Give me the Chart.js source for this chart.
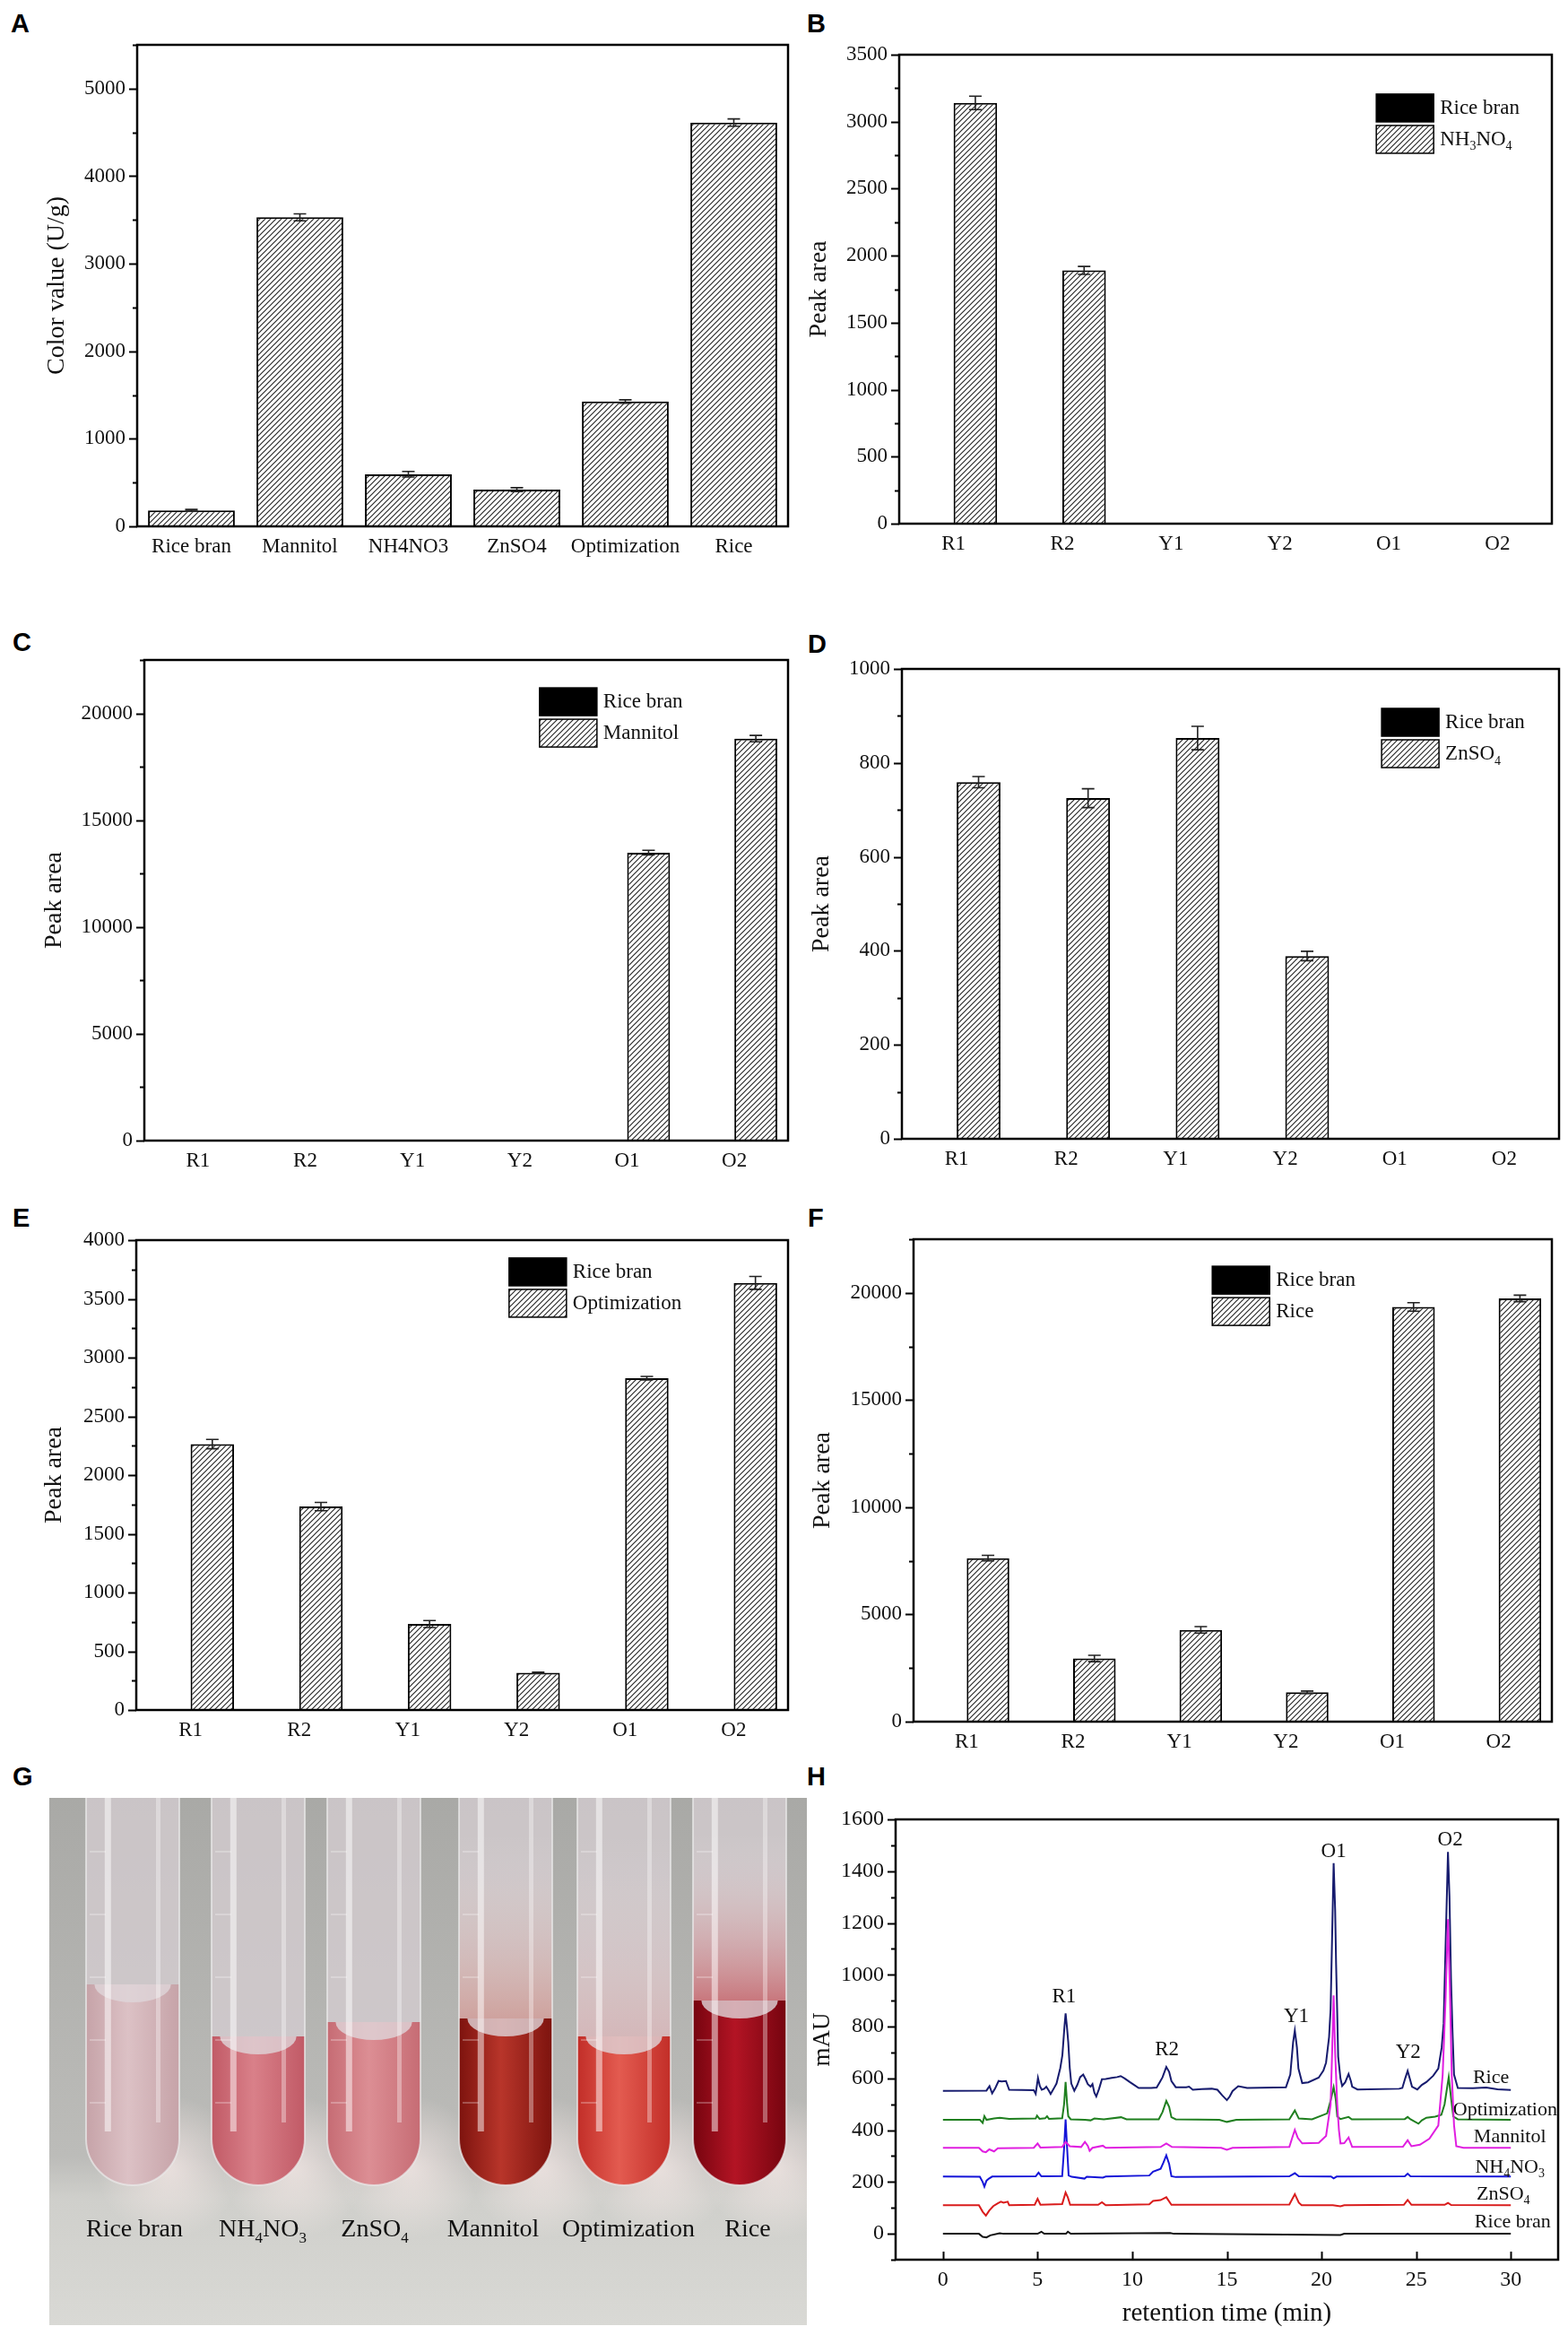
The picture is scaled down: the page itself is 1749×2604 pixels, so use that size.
<!DOCTYPE html>
<html lang="en">
<head>
<meta charset="UTF-8" />
<title>Color value and pigment peak areas</title>
<script src="https://cdn.jsdelivr.net/npm/chart.js@4.4.1/dist/chart.umd.min.js"></script>
<style>
  html, body { margin: 0; padding: 0; background: #fff; }
  body { width: 1749px; height: 2604px; position: relative; overflow: hidden; }
  canvas { position: absolute; }
  .tag { position: absolute; font: bold 29px "Liberation Sans", Arial, sans-serif; line-height: 1; color: #000; }
</style>
</head>
<body>
<div class="tag" style="left:12px;top:12px">A</div>
<div class="tag" style="left:900px;top:12px">B</div>
<div class="tag" style="left:14px;top:702px">C</div>
<div class="tag" style="left:901px;top:704px">D</div>
<div class="tag" style="left:14px;top:1344px">E</div>
<div class="tag" style="left:901px;top:1344px">F</div>
<div class="tag" style="left:14px;top:1967px">G</div>
<div class="tag" style="left:900px;top:1967px">H</div>

<canvas id="chartA"></canvas>
<canvas id="chartB"></canvas>
<canvas id="chartC"></canvas>
<canvas id="chartD"></canvas>
<canvas id="chartE"></canvas>
<canvas id="chartF"></canvas>
<canvas id="photo" width="845" height="588" style="left:55px;top:2005px"></canvas>
<canvas id="chartH"></canvas>

<script>
const SERIF = '"Liberation Serif", "Times New Roman", serif';

// A: colour value of each medium
const colorCats = ['Rice bran', 'Mannitol', 'NH4NO3', 'ZnSO4', 'Optimization', 'Rice'];
const colorValues = [183, 3530, 595, 420, 1425, 4612];
const colorErrors = [10, 40, 32, 22, 20, 42];
const colorTicks = [0, 1000, 2000, 3000, 4000, 5000];

// B-F: peak areas of the six pigments
const peakCats = ['R1', 'R2', 'Y1', 'Y2', 'O1', 'O2'];
const riceBranPeaks = [0, 0, 0, 0, 0, 0];
const nh4no3Peaks = [3140, 1890, 0, 0, 0, 0];
const nh4no3Errors = [50, 30, 0, 0, 0, 0];
const nh4no3Ticks = [0, 500, 1000, 1500, 2000, 2500, 3000, 3500];
const mannitolPeaks = [0, 0, 0, 0, 13480, 18820];
const mannitolErrors = [0, 0, 0, 0, 110, 150];
const mannitolTicks = [0, 5000, 10000, 15000, 20000];
const znso4Peaks = [759, 725, 853, 389, 0, 0];
const znso4Errors = [12, 20, 25, 10, 0, 0];
const znso4Ticks = [0, 200, 400, 600, 800, 1000];
const optimPeaks = [2264, 1732, 732, 317, 2825, 3636];
const optimErrors = [40, 35, 30, 5, 15, 55];
const optimTicks = [0, 500, 1000, 1500, 2000, 2500, 3000, 3500, 4000];
const ricePeaks = [7626, 2946, 4281, 1369, 19341, 19740];
const riceErrors = [130, 150, 150, 60, 200, 150];
const riceTicks = [0, 5000, 10000, 15000, 20000];

// H: HPLC traces, [retention time (min), mAU]
const riceTrace = [[0,552],[2.3,553],[2.46,570],[2.6,542],[2.75,560],[2.94,590],[3.1,588],[3.33,590],[3.5,556],[4.8,554],[4.9,540],[5.02,602],[5.12,570],[5.22,556],[5.35,560],[5.46,568],[5.6,552],[5.69,540],[5.85,560],[6.0,580],[6.2,640],[6.31,690],[6.42,800],[6.48,851],[6.55,800],[6.62,740],[6.7,640],[6.78,580],[6.94,552],[7.1,575],[7.25,605],[7.41,615],[7.55,595],[7.65,578],[7.8,568],[7.9,578],[8.0,545],[8.1,530],[8.25,560],[8.4,597],[8.6,598],[8.92,602],[9.2,605],[9.39,609],[9.6,600],[9.87,586],[10.1,575],[10.34,563],[11.0,563],[11.29,565],[11.45,585],[11.6,604],[11.8,644],[11.95,625],[12.07,590],[12.3,566],[12.85,566],[13.0,568],[13.2,556],[13.67,559],[14.2,560],[14.5,556],[14.75,535],[15.0,516],[15.15,530],[15.3,551],[15.6,570],[16.07,563],[17.5,565],[18.12,566],[18.35,615],[18.5,740],[18.59,785],[18.7,720],[18.78,638],[18.98,582],[19.3,585],[19.85,603],[20.1,630],[20.24,661],[20.4,760],[20.48,868],[20.56,1150],[20.64,1431],[20.72,1250],[20.77,1041],[20.83,850],[20.88,684],[21.0,600],[21.09,571],[21.25,585],[21.43,617],[21.55,590],[21.62,568],[21.9,557],[24.1,560],[24.27,563],[24.42,600],[24.55,629],[24.68,595],[24.78,568],[25.06,557],[25.3,575],[25.54,586],[25.9,610],[26.17,638],[26.35,720],[26.45,811],[26.55,1100],[26.68,1474],[26.76,1300],[26.84,984],[26.92,780],[27.0,615],[27.2,563],[28.0,562],[28.7,565],[29.3,558],[30,555]];
const optimTrace = [[0,440],[1.95,440],[2.1,428],[2.19,454],[2.3,440],[2.7,445],[3.0,448],[3.5,444],[4.9,445],[4.97,456],[5.1,444],[5.4,446],[5.5,454],[5.6,444],[6.3,446],[6.4,500],[6.48,586],[6.56,500],[6.62,454],[6.75,442],[7.5,440],[7.8,438],[8.0,445],[8.5,442],[9.41,450],[9.7,442],[11.4,442],[11.6,470],[11.8,513],[11.95,490],[12.07,450],[12.3,442],[14.6,440],[15.0,432],[15.5,440],[18.3,442],[18.59,476],[18.8,445],[19.5,442],[20.3,465],[20.5,520],[20.64,566],[20.75,520],[20.83,453],[21.0,443],[21.43,451],[21.6,442],[24.4,443],[24.55,451],[24.7,442],[25.12,425],[25.3,438],[25.54,448],[26.0,452],[26.33,459],[26.5,500],[26.72,605],[26.85,520],[26.96,453],[27.2,442],[30,440]];
const mannitolTrace = [[0,332],[1.9,332],[2.1,318],[2.27,315],[2.45,326],[2.7,318],[2.9,330],[4.8,332],[5.0,349],[5.15,333],[6.3,335],[6.48,355],[6.7,338],[7.3,335],[7.5,355],[7.65,340],[7.75,320],[7.9,332],[8.45,340],[8.6,332],[11.5,335],[11.8,349],[12.1,335],[14.7,332],[15.0,324],[15.3,332],[18.3,335],[18.45,370],[18.59,401],[18.75,370],[18.98,349],[19.85,351],[20.24,378],[20.48,499],[20.56,700],[20.64,920],[20.72,700],[20.83,499],[20.92,400],[21.0,349],[21.2,350],[21.43,372],[21.62,335],[24.3,336],[24.55,361],[24.75,338],[25.2,344],[25.7,367],[26.17,418],[26.4,614],[26.55,900],[26.68,1215],[26.78,950],[26.88,614],[27.0,420],[27.12,338],[27.5,332],[30,332]];
const nh4no3Trace = [[0,221],[1.95,220],[2.1,200],[2.19,182],[2.3,205],[2.43,213],[2.6,221],[4.9,222],[5.05,236],[5.2,222],[6.3,223],[6.4,330],[6.48,442],[6.56,330],[6.64,225],[6.8,220],[7.48,213],[7.6,220],[8.45,217],[8.6,221],[10.9,225],[11.1,240],[11.5,251],[11.65,275],[11.8,303],[11.95,270],[12.07,222],[12.3,219],[18.3,222],[18.59,234],[18.8,222],[20.5,221],[20.64,214],[20.8,221],[24.4,222],[24.55,232],[24.7,222],[30,221]];
const znso4Trace = [[0,110],[1.9,110],[2.1,85],[2.27,70],[2.45,90],[2.66,107],[2.9,118],[3.06,124],[3.2,120],[3.42,124],[3.5,110],[4.85,112],[5.0,135],[5.15,112],[6.3,115],[6.48,159],[6.6,140],[6.72,112],[8.2,112],[8.4,122],[8.6,110],[10.9,114],[11.1,127],[11.5,130],[11.8,141],[12.07,112],[18.3,113],[18.59,153],[18.8,120],[18.95,110],[20.6,110],[21.0,106],[21.2,110],[24.35,112],[24.55,131],[24.75,112],[26.5,112],[26.68,119],[26.85,111],[30,110]];
const riceBranTrace = [[0,0],[1.9,0],[2.1,-12],[2.3,-14],[2.5,-6],[3.0,2],[3.2,0],[5.0,0],[5.2,8],[5.35,0],[6.5,0],[6.6,8],[6.75,0],[12,3],[12.2,0],[21,-5],[21.2,0],[30,0]];
const timeTicks = [0, 5, 10, 15, 20, 25, 30];
const mauTicks = [0, 200, 400, 600, 800, 1000, 1200, 1400, 1600];

const traceNames = ['Rice', 'Optimization', 'Mannitol', 'NH_4NO_3', 'ZnSO_4', 'Rice bran'];
const traceLabelT = [28.95, 29.7, 29.95, 29.95, 29.6, 30.1];
const traceLabelV = [603, 479, 373, 257, 153, 45];
const peakNames = ['R1', 'R2', 'Y1', 'O1', 'Y2', 'O2'];
const peakLabelT = [6.4, 11.83, 18.67, 20.64, 24.58, 26.8];
const peakLabelV = [915, 709, 840, 1474, 701, 1520];

// G: the photographed tubes
const tubeNames = ['Rice bran', 'NH_4NO_3', 'ZnSO_4', 'Mannitol', 'Optimization', 'Rice'];

// text with '_x' subscripts
function drawRich(g, str, x, y, size, align) {
  const parts = [];
  for (let i = 0; i < str.length; i++) {
    if (str[i] === '_') { parts.push({ t: str[i + 1], sub: true }); i++; }
    else parts.push({ t: str[i], sub: false });
  }
  const big = size + 'px ' + SERIF, small = Math.round(size * 0.62) + 'px ' + SERIF;
  let w = 0;
  parts.forEach(p => { g.font = p.sub ? small : big; p.w = g.measureText(p.t).width; w += p.w; });
  let cx = align === 'center' ? x - w / 2 : align === 'right' ? x - w : x;
  g.textAlign = 'left';
  g.textBaseline = 'middle';
  parts.forEach(p => {
    g.font = p.sub ? small : big;
    g.fillText(p.t, cx, p.sub ? y + size * 0.34 : y);
    cx += p.w;
  });
}

function makeHatch(ctx) {
  const s = 6, c = document.createElement('canvas');
  c.width = c.height = s;
  const g = c.getContext('2d');
  g.fillStyle = '#fff';
  g.fillRect(0, 0, s, s);
  g.strokeStyle = '#2b2b2b';
  g.lineWidth = 1.2;
  g.beginPath();
  g.moveTo(0, s); g.lineTo(s, 0);
  g.moveTo(-1, 1); g.lineTo(1, -1);
  g.moveTo(s - 1, s + 1); g.lineTo(s + 1, s - 1);
  g.stroke();
  return ctx.createPattern(c, 'repeat');
}

const errorBars = {
  id: 'errorBars',
  afterDatasetsDraw(chart) {
    const { ctx, scales: { y } } = chart;
    ctx.save();
    ctx.strokeStyle = '#222';
    ctx.lineWidth = 1.6;
    chart.data.datasets.forEach((ds, i) => {
      if (!ds.errors) return;
      chart.getDatasetMeta(i).data.forEach((bar, j) => {
        const e = ds.errors[j];
        if (!e) return;
        const v = ds.data[j];
        const yt = y.getPixelForValue(v + e), yb = y.getPixelForValue(v - e);
        ctx.beginPath();
        ctx.moveTo(bar.x, yt); ctx.lineTo(bar.x, yb);
        ctx.moveTo(bar.x - 7, yt); ctx.lineTo(bar.x + 7, yt);
        ctx.moveTo(bar.x - 7, yb); ctx.lineTo(bar.x + 7, yb);
        ctx.stroke();
      });
    });
    ctx.restore();
  }
};

// closed box with outward y ticks (major + minor)
const frame = {
  id: 'frame',
  afterDatasetsDraw(chart, args, o) {
    const { ctx, chartArea: a, scales: { x, y } } = chart;
    ctx.save();
    ctx.strokeStyle = '#000';
    ctx.lineWidth = 2;
    for (let v = y.min; v <= y.max + 1e-6; v += o.minor) {
      const py = Math.round(y.getPixelForValue(v)) + 0.5;
      const len = Math.abs(v % o.major) < 1e-6 ? 9 : 5;
      ctx.beginPath(); ctx.moveTo(a.left - len, py); ctx.lineTo(a.left, py); ctx.stroke();
    }
    if (o.xMajor) {
      for (let v = o.xFrom; v <= o.xTo + 1e-6; v += o.xMajor) {
        const px = Math.round(x.getPixelForValue(v)) + 0.5;
        ctx.beginPath(); ctx.moveTo(px, a.bottom); ctx.lineTo(px, a.bottom - 9); ctx.stroke();
      }
    }
    ctx.lineWidth = 2.5;
    ctx.strokeRect(a.left, a.top, a.right - a.left, a.bottom - a.top);
    ctx.restore();
  }
};

const panelLegend = {
  id: 'panelLegend',
  afterDraw(chart, args, o) {
    if (!o.show) return;
    const { ctx, chartArea: a } = chart;
    const x0 = a.left + o.fx * (a.right - a.left), y0 = a.top + o.fy * (a.bottom - a.top);
    ctx.save();
    chart.data.datasets.forEach((ds, i) => {
      const yy = y0 + i * 35;
      ctx.fillStyle = ds.backgroundColor;
      ctx.fillRect(x0, yy, 64, 31);
      ctx.strokeStyle = '#000';
      ctx.lineWidth = 1.5;
      ctx.strokeRect(x0, yy, 64, 31);
      ctx.fillStyle = '#111';
      drawRich(ctx, ds.label, x0 + 71, yy + 16, 23, 'left');
    });
    ctx.restore();
  }
};

function place(id, rect) {
  const cv = document.getElementById(id);
  cv.width = rect.w;
  cv.height = rect.h;
  cv.style.left = rect.x + 'px';
  cv.style.top = rect.y + 'px';
  return cv;
}

function barPanel(id, rect, box, titleX, yTitle, yMax, step, tickVals, labels, makeSets, legend) {
  const cv = place(id, rect);
  const pat = makeHatch(cv.getContext('2d'));
  const padL = titleX - rect.x - 28 * 1.2 / 2;
  const yW = box.l - rect.x - padL;
  const xH = rect.y + rect.h - box.b;
  new Chart(cv, {
    type: 'bar',
    data: { labels: labels, datasets: makeSets(pat) },
    options: {
      responsive: false,
      animation: false,
      layout: { padding: { left: padL, top: box.t - rect.y, right: rect.x + rect.w - box.r, bottom: 0 } },
      datasets: { bar: { categoryPercentage: 0.8, barPercentage: 1 } },
      plugins: {
        legend: { display: false },
        tooltip: { enabled: false },
        frame: { minor: step / 2, major: step },
        panelLegend: legend
      },
      scales: {
        x: {
          grid: { display: false, drawTicks: false },
          border: { display: false },
          ticks: { color: '#111', font: { family: SERIF, size: 23 }, padding: 9, maxRotation: 0, minRotation: 0, autoSkip: false },
          afterFit: s => { s.height = xH; }
        },
        y: {
          min: 0,
          max: yMax,
          grid: { display: false, drawTicks: false },
          border: { display: false },
          ticks: { color: '#111', font: { family: SERIF, size: 23 }, padding: 13, autoSkip: false, callback: v => String(v) },
          afterBuildTicks: s => { s.ticks = tickVals.map(v => ({ value: v })); },
          title: { display: true, text: yTitle, color: '#111', font: { family: SERIF, size: 28 }, padding: 0 },
          afterFit: s => { s.width = yW; }
        }
      }
    },
    plugins: [errorBars, frame, panelLegend]
  });
}

function pair(label, values, errors) {
  return pat => [
    { label: 'Rice bran', data: riceBranPeaks, backgroundColor: '#000', borderWidth: 0 },
    { label: label, data: values, errors: errors, backgroundColor: pat, borderColor: '#000', borderWidth: 2 }
  ];
}

barPanel('chartA', { x: 0, y: 0, w: 888, h: 690 }, { l: 153, t: 50, r: 879, b: 587 }, 64,
  'Color value (U/g)', 5500, 1000, colorTicks, colorCats,
  pat => [{ label: 'Color value', data: colorValues, errors: colorErrors, backgroundColor: pat, borderColor: '#000', borderWidth: 2 }],
  { show: false });

barPanel('chartB', { x: 888, y: 0, w: 861, h: 690 }, { l: 1003, t: 61, r: 1731, b: 584 }, 914,
  'Peak area', 3500, 500, nh4no3Ticks, peakCats, pair('NH_3NO_4', nh4no3Peaks, nh4no3Errors),
  { show: true, fx: 0.731, fy: 0.084 });

barPanel('chartC', { x: 0, y: 650, w: 888, h: 690 }, { l: 161, t: 736, r: 879, b: 1272 }, 61,
  'Peak area', 22500, 5000, mannitolTicks, peakCats, pair('Mannitol', mannitolPeaks, mannitolErrors),
  { show: true, fx: 0.614, fy: 0.058 });

barPanel('chartD', { x: 888, y: 650, w: 861, h: 690 }, { l: 1006, t: 746, r: 1739, b: 1270 }, 917,
  'Peak area', 1000, 200, znso4Ticks, peakCats, pair('ZnSO_4', znso4Peaks, znso4Errors),
  { show: true, fx: 0.730, fy: 0.084 });

barPanel('chartE', { x: 0, y: 1300, w: 888, h: 690 }, { l: 152, t: 1383, r: 879, b: 1907 }, 61,
  'Peak area', 4000, 500, optimTicks, peakCats, pair('Optimization', optimPeaks, optimErrors),
  { show: true, fx: 0.572, fy: 0.038 });

barPanel('chartF', { x: 888, y: 1300, w: 861, h: 690 }, { l: 1019, t: 1382, r: 1731, b: 1920 }, 918,
  'Peak area', 22500, 5000, riceTicks, peakCats, pair('Rice', ricePeaks, riceErrors),
  { show: true, fx: 0.468, fy: 0.056 });

// H: chromatograms
const hplcLabels = {
  id: 'hplcLabels',
  afterDraw(chart) {
    const { ctx, scales: { x, y } } = chart;
    ctx.save();
    ctx.fillStyle = '#111';
    traceNames.forEach((n, i) => drawRich(ctx, n, x.getPixelForValue(traceLabelT[i]), y.getPixelForValue(traceLabelV[i]), 22, 'center'));
    peakNames.forEach((n, i) => drawRich(ctx, n, x.getPixelForValue(peakLabelT[i]), y.getPixelForValue(peakLabelV[i]), 23, 'center'));
    ctx.restore();
  }
};

(function () {
  const rect = { x: 888, y: 1950, w: 861, h: 654 }, box = { l: 999, t: 2029, r: 1738, b: 2520 };
  const cv = place('chartH', rect);
  const padL = 918 - rect.x - 27 * 1.2 / 2;
  const yW = box.l - rect.x - padL;
  const xH = rect.y + rect.h - box.b;
  const line = (label, data, color) => ({ label, data, borderColor: color, borderWidth: 2, pointRadius: 0, fill: false, tension: 0 });
  new Chart(cv, {
    type: 'line',
    data: {
      datasets: [
        line('Mannitol', mannitolTrace, '#e01ee0'),
        line('Optimization', optimTrace, '#1f7f1f'),
        line('NH4NO3', nh4no3Trace, '#1414d8'),
        line('ZnSO4', znso4Trace, '#d91c1c'),
        line('Rice bran', riceBranTrace, '#111'),
        line('Rice', riceTrace, '#161b6e')
      ]
    },
    options: {
      responsive: false,
      animation: false,
      layout: { padding: { left: padL, top: box.t - rect.y, right: rect.x + rect.w - box.r, bottom: 0 } },
      plugins: {
        legend: { display: false },
        tooltip: { enabled: false },
        frame: { minor: 100, major: 200, xMajor: 5, xFrom: 0, xTo: 30 }
      },
      scales: {
        x: {
          type: 'linear',
          min: -2.5,
          max: 32.5,
          grid: { display: false, drawTicks: false },
          border: { display: false },
          ticks: { color: '#111', font: { family: SERIF, size: 24 }, padding: 8, maxRotation: 0, autoSkip: false, callback: v => String(v) },
          afterBuildTicks: s => { s.ticks = timeTicks.map(v => ({ value: v })); },
          title: { display: true, text: 'retention time (min)', color: '#111', font: { family: SERIF, size: 29 }, padding: { top: 0, bottom: 6 } },
          afterFit: s => { s.height = xH; }
        },
        y: {
          min: -100,
          max: 1600,
          grid: { display: false, drawTicks: false },
          border: { display: false },
          ticks: { color: '#111', font: { family: SERIF, size: 24 }, padding: 13, autoSkip: false, callback: v => String(v) },
          afterBuildTicks: s => { s.ticks = mauTicks.map(v => ({ value: v })); },
          title: { display: true, text: 'mAU', color: '#111', font: { family: SERIF, size: 27 }, padding: 0 },
          afterFit: s => { s.width = yW; }
        }
      }
    },
    plugins: [frame, hplcLabels]
  });
})();

// G: photo of the culture tubes, drawn as a sketch
function drawPhoto() {
  const cv = document.getElementById('photo');
  const g = cv.getContext('2d');
  const W = cv.width, H = cv.height;
  const bg = g.createLinearGradient(0, 0, 0, H);
  bg.addColorStop(0, '#a9a9a6');
  bg.addColorStop(0.68, '#bcbcb9');
  bg.addColorStop(0.76, '#cfcfcb');
  bg.addColorStop(1, '#d9d9d5');
  g.fillStyle = bg;
  g.fillRect(0, 0, W, H);

  const tubeX = [93, 233, 362, 509, 641, 770];
  const level = [228, 286, 270, 266, 286, 246];
  const edge = ['#c6a3a8', '#c15a66', '#c66c74', '#7d130e', '#c22e28', '#76040f'];
  const mid = ['#dcc1c5', '#d98089', '#dc8e94', '#b8352a', '#e35b50', '#b31424'];
  const tint = [null, null, null, 'rgba(205,95,80,0.45)', 'rgba(225,140,140,0.35)', 'rgba(190,30,40,0.6)'];
  const labelX = [95, 238, 363, 495, 646, 779];
  const r = 52, bottom = 432;

  function tubePath(cx) {
    g.beginPath();
    g.moveTo(cx - r, -10);
    g.lineTo(cx - r, bottom - r);
    g.arc(cx, bottom - r, r, Math.PI, 0, true);
    g.lineTo(cx + r, -10);
    g.closePath();
  }

  tubeX.forEach((cx, i) => {
    // light falling through the tube on the bench
    const glow = g.createRadialGradient(cx + 40, bottom - 20, 5, cx + 40, bottom - 20, 80);
    glow.addColorStop(0, 'rgba(255,240,238,0.6)');
    glow.addColorStop(1, 'rgba(255,240,238,0)');
    g.fillStyle = glow;
    g.fillRect(cx - 60, bottom - 110, 200, 180);

    g.save();
    tubePath(cx);
    g.clip();
    g.fillStyle = 'rgba(214,205,209,0.75)';
    g.fillRect(cx - r, -10, 2 * r, bottom + 10);
    if (tint[i]) {
      const tg = g.createLinearGradient(0, 40, 0, level[i]);
      tg.addColorStop(0, 'rgba(255,255,255,0)');
      tg.addColorStop(1, tint[i]);
      g.fillStyle = tg;
      g.fillRect(cx - r, 40, 2 * r, level[i] - 40);
    }
    const lg = g.createLinearGradient(cx - r, 0, cx + r, 0);
    lg.addColorStop(0, edge[i]);
    lg.addColorStop(0.45, mid[i]);
    lg.addColorStop(1, edge[i]);
    g.fillStyle = lg;
    g.fillRect(cx - r, level[i] - 20, 2 * r, bottom - level[i] + 20);
    // meniscus seen from slightly above
    g.fillStyle = 'rgba(222,214,218,0.8)';
    g.beginPath();
    g.ellipse(cx, level[i] - 20, r * 0.82, 20, 0, 0, Math.PI);
    g.fill();
    // graduation marks
    g.strokeStyle = 'rgba(255,255,255,0.35)';
    g.lineWidth = 1.5;
    for (let k = 60; k < bottom - 60; k += 70) {
      g.beginPath(); g.moveTo(cx - r + 4, k); g.lineTo(cx - r + 22, k); g.stroke();
    }
    // glass reflections
    g.fillStyle = 'rgba(255,255,255,0.5)';
    g.fillRect(cx - r * 0.6, 0, 7, bottom - 60);
    g.fillStyle = 'rgba(255,255,255,0.35)';
    g.fillRect(cx + r * 0.5, 0, 5, bottom - 70);
    g.restore();

    g.strokeStyle = 'rgba(235,235,235,0.7)';
    g.lineWidth = 2;
    tubePath(cx);
    g.stroke();
  });

  g.fillStyle = '#111';
  tubeNames.forEach((n, i) => drawRich(g, n, labelX[i], 482, 28, 'center'));
}
drawPhoto();
</script>
</body>
</html>
